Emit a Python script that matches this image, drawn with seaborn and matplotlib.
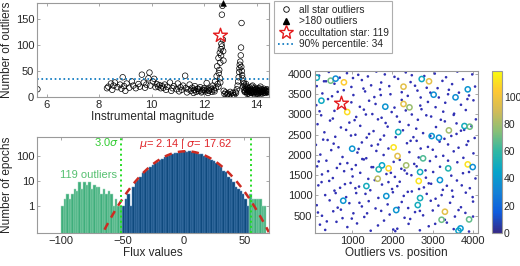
import numpy as np
import pandas as pd
import matplotlib
matplotlib.use('Agg')
import matplotlib.pyplot as plt
import seaborn as sns
from matplotlib.colors import LinearSegmentedColormap, Normalize
from matplotlib.cm import ScalarMappable
from matplotlib.lines import Line2D

# ---- top left: outliers per star vs magnitude ----
star_mag = [5.65,
    8.3, 8.35, 8.45, 8.5, 8.55, 8.6, 8.7, 8.8, 8.85, 8.9, 8.95, 9.0, 9.05, 9.15, 9.25, 9.3, 9.4, 9.5,
    9.55, 9.63, 9.7, 9.75, 9.8, 9.88, 9.92, 9.95, 10.05, 10.1, 10.15, 10.2, 10.25, 10.3, 10.35, 10.4,
    10.45, 10.5, 10.55, 10.6, 10.7, 10.75, 10.8, 10.85, 10.95, 11.0, 11.05, 11.1, 11.15, 11.2, 11.28,
    11.3, 11.35, 11.4, 11.45, 11.5, 11.55, 11.6, 11.62, 11.65, 11.7, 11.75, 11.8, 11.85, 11.9, 11.95,
    12.0, 12.05, 12.1, 12.12, 12.15, 12.2, 12.25, 12.3, 12.33, 12.38, 12.42, 12.45, 12.48, 12.5, 12.52,
    12.55, 12.56, 12.58, 12.6, 12.61, 12.62, 12.64, 12.65, 12.66, 12.68, 12.68, 12.7, 12.72, 12.73,
    12.74, 12.75, 12.78, 12.82, 12.86, 12.9, 12.95, 13.0, 13.05, 13.1, 13.15, 13.2, 13.25, 13.28, 13.3,
    13.32, 13.34, 13.35, 13.36, 13.38, 13.4, 13.41, 13.43, 13.42, 13.44, 13.45, 13.47, 13.5, 13.52,
    13.55, 13.58, 13.6, 13.62, 13.65, 13.68, 13.7, 13.72, 13.75, 13.78, 13.8, 13.82, 13.85, 13.88,
    13.9, 13.92, 13.95, 13.98, 14.0, 14.03, 14.05, 14.08, 14.1, 14.12, 14.15, 14.18, 14.2, 14.23,
    14.25, 14.28, 14.3, 14.33, 14.36, 14.4, 14.43, 14.46, 13.55, 13.65, 13.75, 13.85, 14.0, 14.15,
    11.65, 11.78, 11.92, 12.02, 12.18, 12.28, 12.4, 12.55, 12.62, 12.9, 13.0, 13.12, 13.22,
    13.48, 13.52, 13.57, 13.6, 13.63, 13.67, 13.7, 13.73, 13.77, 13.8, 13.83, 13.87, 13.9, 13.94,
    13.97, 14.02, 14.06, 14.1, 14.14, 14.17, 14.21, 14.26, 14.3, 14.34, 14.38, 14.42, 14.45]
star_out = [15,
    17, 20, 26, 14, 22, 28, 19, 24, 16, 38, 21, 12, 26, 18, 30, 22, 17, 25,
    20, 43, 28, 18, 24, 36, 47, 22, 30, 35, 19, 25, 20, 23, 17, 21,
    18, 24, 14, 20, 28, 12, 17, 21, 15, 26, 11, 19, 14, 22, 41,
    17, 9, 15, 24, 12, 18, 8, 14, 21, 10, 16, 12, 19, 9, 14,
    17, 11, 27, 15, 8, 13, 18, 10, 22, 14, 30, 18, 40, 59, 25,
    75, 46, 52, 85, 36, 66, 92, 80, 102, 97, 158, 175, 110, 88,
    70, 12, 6, 9, 3, 7, 2, 5, 1, 8, 3, 10, 15, 22, 30,
    38, 48, 55, 62, 68, 80, 95, 142, 58, 50, 42, 36, 30, 26,
    22, 18, 25, 14, 20, 10, 16, 12, 18, 8, 14, 20, 11, 16,
    7, 13, 18, 10, 15, 9, 13, 17, 8, 12, 16, 10, 14, 7,
    12, 16, 9, 13, 11, 15, 10, 13, 10, 6, 4, 22, 6, 20,
    13, 16, 11, 14, 12, 15, 11, 20, 28, 5, 10, 4, 8,
    20, 14, 11, 16, 9, 13, 7, 11, 14, 10, 8, 12, 10, 14,
    9, 12, 6, 13, 10, 7, 11, 9, 13, 8, 12, 9, 11]
above_mag = [12.71]
above_out = [180]
occ_mag = [12.62]
occ_out = [119]
pct90 = 34

# ---- bottom left: flux histogram of the occultation star ----
mu, sigma = 2.14, 17.62
fit_peak = 152
bin_width = 2
flux_in = [-49, -47, -45, -43, -41, -39, -37, -35, -33, -31, -29, -27, -25, -23, -21, -19, -17,
           -15, -13, -11, -9, -7, -5, -3, -1, 1, 3, 5, 7, 9, 11, 13, 15, 17, 19, 21, 23, 25,
           27, 29, 31, 33, 35, 37, 39, 41, 43, 45, 47, 49, 51, 53]
count_in = [1, 2, 3, 1, 6, 9, 11, 15, 20, 24, 28, 37, 42, 50, 58, 70, 78,
            90, 98, 110, 118, 126, 134, 140, 145, 150, 148, 152, 146, 140, 132, 122, 115, 100, 90, 82, 70, 62,
            50, 42, 35, 26, 22, 15, 12, 9, 6, 5, 4, 3, 2, 1]
flux_out = [-99, -97, -95, -93, -91, -89, -87, -85, -83, -81, -79, -77, -75, -73, -71, -69, -67,
            -65, -63, -61, -59, -57, -55, -53, -51, 55, 57, 59, 61, 63, 65, 67]
count_out = [1, 2, 3, 2, 3, 5, 4, 9, 5, 9, 7, 9, 5, 7, 6, 6, 3,
             5, 3, 4, 3, 1, 2, 1, 1, 3, 2, 2, 2, 2, 1, 1]

# ---- right: star positions, coloured by outlier count ----
dot_x = [180, 420, 690, 870, 1150, 1390, 1600, 1810, 2050, 2330, 2480, 2790, 3050, 3330, 3610, 3980,
         120, 350, 560, 980, 1240, 1470, 1720, 2140, 2560, 2850, 3240, 3480, 3750, 4050,
         260, 500, 790, 1030, 1320, 1550, 1690, 1950, 2380, 2620, 2940, 3150, 3400, 3900,
         110, 400, 980, 1190, 1420, 1580, 2050, 2230, 2690, 2880, 3070, 3310, 3700, 4010,
         230, 560, 1100, 1290, 1500, 1730, 1980, 2480, 2720, 2960, 3260, 3520, 3820,
         140, 450, 720, 930, 1200, 1640, 1880, 2180, 2400, 2630, 3080, 3300, 3590, 3960,
         310, 580, 850, 1080, 1360, 1530, 1790, 2260, 2520, 2760, 3460, 3700, 4040,
         100, 390, 660, 1240, 1480, 1700, 1900, 2360, 2600, 2880, 3170, 3380, 3640, 3880,
         210, 480, 760, 1130, 1350, 1600, 1780, 2420, 2650, 3000, 3260, 3520, 3760, 4010,
         130, 360, 620, 880, 1090, 1290, 1480, 2030, 2220, 2540, 2930, 3180, 3610,
         250, 520, 800, 1010, 1200, 1400, 1850, 2060, 2300, 2470, 2830, 3010, 3460, 3750, 4060,
         160, 430, 700, 960, 1170, 1560, 1740, 1990, 2180, 2780, 2960, 3350, 3600, 3920,
         330, 560, 850, 1100, 1450, 1650, 2010, 2280, 2480, 2850, 3070, 3250, 3500, 3820,
         120, 440, 640, 930, 1240, 1410, 1580, 1880, 2230, 2390, 2950, 3140, 3430, 3700, 4000,
         250, 530, 760, 1030, 1300, 1720, 1930, 2300, 2560, 2760, 3000, 3550, 3810,
         200, 330, 610, 880, 1120, 1460, 1640, 2020, 2070, 2120, 2400, 2680, 2900, 3350, 3520, 3900,
         300, 640, 1020, 1280, 1710, 1920, 2230, 2450, 2700, 3120, 3380, 3650, 3860,
         190, 520, 820, 1060, 1340, 1830, 2110, 2330, 2590, 2840, 3200, 3530, 3780, 4070,
         280, 540, 970, 1160, 1420, 1640, 2080, 2450, 2700, 2940, 3290, 3590, 3840,
         170, 400, 700, 990, 1250, 1520, 1960, 2180, 2360, 2600, 2820, 3080, 3380, 3900,
         240, 590, 820, 1080, 1330, 1900, 2120, 2380, 2660, 2900, 3220, 3480, 3720, 3990,
         150, 370, 720, 990, 1180, 1370, 1790, 2150, 2440, 2680, 3060, 3300, 3640, 4000]
dot_y = [3960, 4050, 3910, 4020, 3980, 3940, 4060, 3990, 3930, 4040, 3970, 3950, 4010, 3920, 4060, 3990,
         3700, 3820, 3760, 3680, 3850, 3720, 3790, 3880, 3710, 3660, 3830, 3750, 3870, 3690,
         3520, 3450, 3600, 3480, 3570, 3430, 3620, 3500, 3460, 3590, 3540, 3420, 3610, 3470,
         3230, 3380, 3300, 3190, 3340, 3260, 3170, 3360, 3220, 3310, 3180, 3290, 3240, 3350,
         2980, 3090, 2940, 3120, 3010, 2920, 3060, 3000, 3130, 2950, 3070, 2990, 3110,
         2760, 2850, 2680, 2800, 2720, 2880, 2700, 2820, 2740, 2870, 2690, 2830, 2780, 2710,
         2560, 2450, 2620, 2500, 2430, 2590, 2480, 2610, 2440, 2540, 2470, 2600, 2420,
         2250, 2370, 2190, 2310, 2230, 2380, 2160, 2290, 2350, 2200, 2330, 2260, 2180, 2340,
         2010, 2120, 1950, 2060, 1920, 2100, 2000, 2070, 1940, 2130, 1980, 2090, 1930, 2040,
         1720, 1860, 1680, 1800, 1750, 1890, 1700, 1830, 1660, 1780, 1850, 1710, 1820,
         1520, 1430, 1600, 1470, 1560, 1410, 1530, 1460, 1620, 1500, 1440, 1580, 1490, 1550, 1420,
         1250, 1360, 1190, 1310, 1220, 1380, 1270, 1160, 1340, 1200, 1290, 1240, 1370, 1180,
         1010, 1120, 960, 1060, 1130, 940, 1080, 990, 1100, 1040, 920, 1140, 970, 1070,
         760, 880, 700, 810, 730, 860, 680, 780, 840, 690, 870, 750, 820, 710, 850,
         500, 610, 440, 560, 470, 620, 530, 450, 590, 510, 630, 480, 570,
         280, 150, 350, 220, 310, 130, 260, 160, 120, 180, 300, 140, 240, 330, 170, 110,
         3820, 3560, 3900, 3640, 3480, 3700, 3550, 3800, 3420, 3650, 3500, 3540, 3380,
         3080, 2900, 3150, 2860, 3000, 2790, 2950, 3100, 2650, 2980, 2870, 3020, 2620, 2880,
         2380, 2280, 2480, 2150, 2520, 2260, 2440, 2350, 2160, 2470, 2400, 2520, 2250,
         1840, 1600, 1780, 1650, 1900, 1700, 1560, 1880, 1540, 1720, 1620, 1960, 1860, 1580,
         1330, 1060, 1280, 1180, 1040, 1330, 1230, 1090, 1160, 1300, 1010, 1120, 1250, 960,
         580, 360, 650, 430, 820, 560, 380, 700, 420, 620, 300, 400, 640, 480]
circ_x = [120, 466, 589, 795, 236, 877, 1822, 2274, 2274, 2422, 2726, 2907, 3022, 3565, 3869, 3787,
          3918, 3400, 2143, 2973, 3154, 1000, 2028, 2126, 2759, 1740, 1658, 1904, 2340, 2685, 3384,
          3869, 3992, 1633, 2652, 3178, 1353, 1847, 2685, 778, 2628, 2093, 3302, 3219, 3902, 3688, 3639]
circ_y = [3909, 3835, 3885, 3794, 3341, 3061, 3193, 3687, 3259, 3176, 3876, 3819, 3489, 3424, 3621, 2715,
          2699, 2608, 2567, 2468, 2427, 2155, 2188, 1974, 1917, 1744, 1645, 1670, 1744, 1579, 1670,
          1768, 1702, 1414, 1357, 1381, 1233, 986, 937, 871, 764, 640, 599, 401, 409, 187, 130]
circ_val = [50, 70, 35, 105, 48, 110, 38, 95, 95, 78, 48, 95, 35, 35, 38, 50,
            70, 80, 50, 38, 35, 38, 112, 95, 65, 45, 55, 108, 80, 50, 55,
            112, 35, 85, 112, 38, 50, 38, 52, 38, 50, 38, 95, 70, 68, 40, 45]
occ_x = [712]
occ_y = [3275]
cbar_ticks = [0, 20, 40, 60, 80, 100]

# parula-like colormap
parula = LinearSegmentedColormap.from_list('parula', [
    '#352A87', '#0F5CDD', '#1481D6', '#06A4CA', '#2EB7A4', '#87BF77', '#D1BB59', '#FEC832', '#F9FB0E'])
norm = Normalize(0, 119)

sns.set_style('ticks')
plt.rcParams['font.family'] = ['Liberation Sans', 'DejaVu Sans']
plt.rcParams['mathtext.fontset'] = 'dejavusans'
plt.rcParams['xtick.direction'] = 'in'
plt.rcParams['ytick.direction'] = 'in'
GRAY = '#9a9a9a'
TXT = '#262626'

fig = plt.figure(figsize=(5.2, 2.66), dpi=100)
ax1 = fig.add_axes([0.071, 0.635, 0.446, 0.353])
ax2 = fig.add_axes([0.071, 0.124, 0.446, 0.361])
ax3 = fig.add_axes([0.606, 0.125, 0.313, 0.609])
cax = fig.add_axes([0.946, 0.125, 0.019, 0.609])


def matlab_box(ax):
    for s in ax.spines.values():
        s.set_color(GRAY)
        s.set_linewidth(0.8)
    ax.tick_params(colors=GRAY, labelcolor=TXT, labelsize=8, length=2.5, width=0.6,
                   top=True, right=True, pad=2)


# top left
sns.scatterplot(x=star_mag, y=star_out, ax=ax1, marker='o', s=16, facecolors='none',
                edgecolor='black', linewidth=0.5, legend=False)
ax1.axhline(pct90, color='#0072BD', ls=':', lw=1.2)
sns.scatterplot(x=above_mag, y=above_out, ax=ax1, marker='^', s=18, color='black',
                edgecolor='black', legend=False, clip_on=False, zorder=5)
sns.scatterplot(x=occ_mag, y=occ_out, ax=ax1, marker='*', s=110, facecolors='white',
                edgecolor='#e41a1c', linewidth=1.0, legend=False, zorder=6)
ax1.set_xlim(5.63, 14.47)
ax1.set_ylim(0, 180)
ax1.set_xticks([6, 8, 10, 12, 14])
ax1.set_yticks([0, 50, 100, 150])
ax1.set_xlabel('Instrumental magnitude', fontsize=8.5, color=TXT, labelpad=1)
ax1.set_ylabel('Number of outliers', fontsize=8.5, color=TXT, labelpad=2)
matlab_box(ax1)

handles = [
    Line2D([], [], marker='o', ls='none', mfc='none', mec='black', ms=4, mew=0.6),
    Line2D([], [], marker='^', ls='none', color='black', ms=4),
    Line2D([], [], marker='*', ls='none', mfc='white', mec='#e41a1c', ms=10, mew=1.0),
    Line2D([], [], color='#0072BD', ls=':', lw=1.2),
]
labels = ['all star outliers', '>180 outliers', 'occultation star: 119', '90% percentile: 34']
leg = fig.legend(handles, labels, loc='upper left', bbox_to_anchor=(0.527, 0.996), fontsize=7.3,
                 frameon=True, fancybox=False, edgecolor=GRAY, handlelength=1.7,
                 handletextpad=0.4, labelspacing=0.15, borderpad=0.35, borderaxespad=0)
leg.get_frame().set_linewidth(0.8)

# bottom left
hist_in = pd.DataFrame({'flux': flux_in, 'n': count_in})
hist_out = pd.DataFrame({'flux': flux_out, 'n': count_out})
edges_in = [float(e) for e in np.arange(-50, 55, bin_width)]
edges_out = [float(e) for e in np.arange(-100, 69, bin_width)]
sns.histplot(data=hist_in, x='flux', weights='n', bins=edges_in, ax=ax2, color='#0f4a7e',
             edgecolor='#5b8fc2', linewidth=0.35, alpha=1)
sns.histplot(data=hist_out, x='flux', weights='n', bins=edges_out, ax=ax2, color='#3fae7c',
             edgecolor='#a6dcc0', linewidth=0.35, alpha=1)
ax2.set_yscale('log')
fit_x = np.linspace(-120, 70, 400)
fit_y = fit_peak * np.exp(-(fit_x - mu) ** 2 / (2 * sigma ** 2))
sns.lineplot(x=fit_x, y=fit_y, ax=ax2, color='#cc2b22', lw=1.8)
ax2.lines[-1].set_dashes([3, 2.5])
for v in (mu - 3 * sigma, mu + 3 * sigma):
    ax2.axvline(v, color='#22dd22', ls=':', lw=1.4)
ax2.set_xlim(-120, 70)
ax2.set_ylim(0.085, 560)
ax2.set_yticks([1, 10, 100])
ax2.set_yticklabels(['1', '10', '100'])
ax2.minorticks_off()
ax2.set_xticks([-100, -50, 0, 50])
ax2.set_xlabel('Flux values', fontsize=8.5, color=TXT, labelpad=1)
ax2.set_ylabel('Number of epochs', fontsize=8.5, color=TXT, labelpad=2)
ax2.text(mu - 3 * sigma - 2, 350, r'3.0$\sigma$', color='#33cc33', fontsize=8,
         ha='right', va='center')
ax2.text(mu, 300, r'$\mu$= 2.14 | $\sigma$= 17.62', color='#e0262b', fontsize=8,
         ha='center', va='center')
ax2.text(-78, 17, '119 outliers', color='#55c070', fontsize=8, ha='center', va='center')
matlab_box(ax2)

# right
sns.scatterplot(x=dot_x, y=dot_y, ax=ax3, marker='o', s=3.5, color='#3030b4',
                edgecolor='none', legend=False)
sns.scatterplot(x=circ_x, y=circ_y, ax=ax3, marker='o', s=14, facecolors='none',
                edgecolor=[parula(norm(v)) for v in circ_val], linewidth=1.1, legend=False)
sns.scatterplot(x=occ_x, y=occ_y, ax=ax3, marker='*', s=110, facecolors='white',
                edgecolor='#e41a1c', linewidth=1.0, legend=False, zorder=6)
ax3.set_xlim(80, 4120)
ax3.set_ylim(80, 4080)
ax3.set_xticks([1000, 2000, 3000, 4000])
ax3.set_yticks([500, 1000, 1500, 2000, 2500, 3000, 3500, 4000])
ax3.set_xlabel('Outliers vs. position', fontsize=8.5, color=TXT, labelpad=1)
matlab_box(ax3)

cb = fig.colorbar(ScalarMappable(norm=norm, cmap=parula), cax=cax)
cb.set_ticks(cbar_ticks)
cb.outline.set_edgecolor(GRAY)
cb.outline.set_linewidth(0.8)
cax.tick_params(colors=GRAY, labelcolor=TXT, labelsize=7.5, length=2.5, direction='in', pad=1.5)

fig.savefig('out.png', dpi=100)
